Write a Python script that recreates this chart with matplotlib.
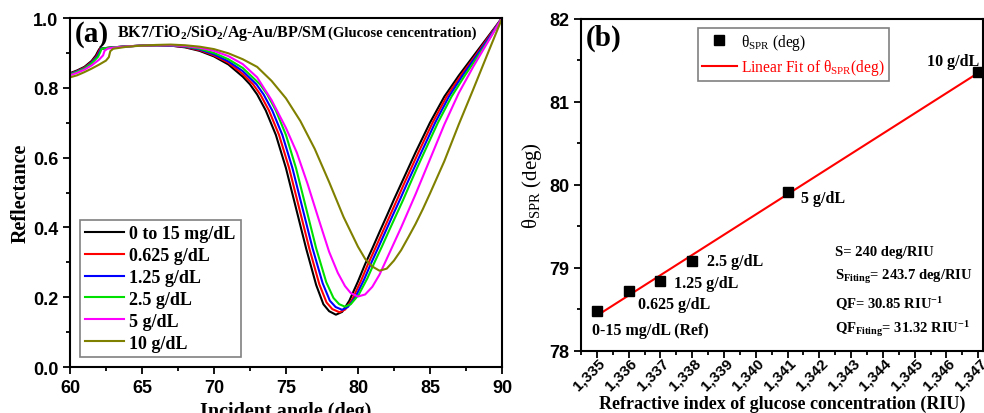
import numpy as np
import matplotlib
matplotlib.use("Agg")
import matplotlib.pyplot as plt
from matplotlib.ticker import MultipleLocator
from matplotlib.font_manager import FontProperties
from matplotlib.transforms import ScaledTranslation

plt.rcParams['mathtext.default'] = 'regular'
plt.rcParams['font.family'] = ['Liberation Serif', 'DejaVu Serif']

# ---------------- Panel (a) data: reflectance curves ----------------
labels_a = ["0 to 15 mg/dL", "0.625 g/dL", "1.25 g/dL", "2.5 g/dL", "5 g/dL", "10 g/dL"]
colors_a = ["#000000", "#ff0000", "#0000ff", "#00e000", "#ff00ff", "#808000"]

ang_black = [60, 60.5, 61, 61.5, 61.8, 61.95, 62.05, 62.5, 63, 64, 65, 66, 67, 68, 69, 70, 71, 72,
             72.5, 73.0, 73.6, 74.3, 75.0, 75.7, 76.4, 77.1, 77.6, 78.0, 78.47, 78.9, 79.4, 80.0,
             80.5, 81.0, 81.5, 82.0, 82.5, 83.0, 83.5, 84.0, 85, 86, 87, 88, 89, 90]
R_black = [0.842, 0.850, 0.860, 0.877, 0.893, 0.905, 0.912, 0.914, 0.916, 0.919, 0.921, 0.922, 0.921,
           0.916, 0.906, 0.890, 0.867, 0.832, 0.810, 0.781, 0.735, 0.665, 0.570, 0.455, 0.340, 0.235,
           0.180, 0.160, 0.150, 0.158, 0.190, 0.245, 0.295, 0.340, 0.387, 0.433, 0.480, 0.525, 0.570,
           0.615, 0.700, 0.775, 0.835, 0.890, 0.945, 1.0]

ang_red = [60, 60.5, 61, 61.5, 61.85, 62.0, 62.1, 62.5, 63, 64, 65, 66, 67, 68, 69, 70, 71, 72,
           72.72, 73.22, 73.82, 74.52, 75.22, 75.92, 76.62, 77.32, 77.82, 78.22, 78.72, 79.12,
           79.62, 80.22, 80.72, 81.22, 81.72, 82.22, 82.72, 83.2, 83.7, 84.2, 85.18, 86.16, 87.14,
           88.12, 89.06, 90]
R_red = [0.840, 0.848, 0.858, 0.874, 0.891, 0.904, 0.912, 0.914, 0.916, 0.919, 0.921, 0.922, 0.921,
         0.917, 0.908, 0.893, 0.872, 0.840, 0.810, 0.781, 0.735, 0.665, 0.570, 0.455, 0.340, 0.237,
         0.185, 0.166, 0.157, 0.165, 0.195, 0.248, 0.297, 0.342, 0.388, 0.434, 0.480, 0.525, 0.570,
         0.615, 0.700, 0.775, 0.835, 0.890, 0.945, 1.0]

ang_blue = [60, 60.5, 61, 61.5, 61.9, 62.05, 62.15, 62.5, 63, 64, 65, 66, 67, 68, 69, 70, 71, 72,
            72.95, 73.45, 74.05, 74.75, 75.45, 76.15, 76.85, 77.55, 78.05, 78.45, 78.9, 79.3,
            79.82, 80.42, 80.92, 81.42, 81.92, 82.42, 82.92, 83.4, 83.9, 84.4, 85.36, 86.32, 87.26,
            88.2, 89.12, 90]
R_blue = [0.839, 0.847, 0.856, 0.872, 0.890, 0.903, 0.912, 0.914, 0.916, 0.919, 0.921, 0.922, 0.921,
          0.918, 0.910, 0.896, 0.876, 0.848, 0.810, 0.781, 0.735, 0.665, 0.570, 0.455, 0.340, 0.240,
          0.190, 0.172, 0.164, 0.172, 0.200, 0.250, 0.298, 0.343, 0.389, 0.435, 0.480, 0.525, 0.570,
          0.615, 0.700, 0.775, 0.835, 0.890, 0.945, 1.0]

ang_green = [60, 60.5, 61, 61.5, 61.95, 62.1, 62.2, 62.5, 63, 64, 65, 66, 67, 68, 69, 70, 71, 72,
             73.2, 73.7, 74.3, 75.0, 75.7, 76.4, 77.1, 77.8, 78.3, 78.7, 79.1, 79.5, 80.05, 80.65,
             81.15, 81.65, 82.15, 82.65, 83.15, 83.62, 84.1, 84.6, 85.55, 86.5, 87.42, 88.32, 89.2, 90]
R_green = [0.838, 0.846, 0.855, 0.870, 0.889, 0.902, 0.912, 0.914, 0.916, 0.919, 0.921, 0.922, 0.922,
           0.919, 0.912, 0.900, 0.882, 0.857, 0.810, 0.781, 0.735, 0.665, 0.570, 0.455, 0.340, 0.243,
           0.198, 0.180, 0.173, 0.180, 0.207, 0.254, 0.300, 0.344, 0.390, 0.435, 0.480, 0.525, 0.570,
           0.615, 0.700, 0.775, 0.835, 0.890, 0.945, 1.0]

ang_mag = [60, 60.5, 61, 61.5, 62.0, 62.3, 62.4, 62.6, 63, 64, 65, 66, 67, 68, 69, 70, 71, 72,
           73, 74, 75, 75.75, 76.5, 77.3, 78.0, 78.6, 79.1, 79.5, 80.0, 80.5, 81.0, 81.5, 82.0,
           82.5, 83.0, 84.0, 85.0, 86.0, 87.0, 88.0, 88.8, 90]
R_mag = [0.836, 0.843, 0.852, 0.864, 0.880, 0.893, 0.906, 0.912, 0.915, 0.919, 0.921, 0.922, 0.922,
         0.920, 0.915, 0.906, 0.891, 0.868, 0.830, 0.765, 0.685, 0.615, 0.525, 0.420, 0.330, 0.270,
         0.232, 0.212, 0.202, 0.208, 0.230, 0.265, 0.310, 0.355, 0.400, 0.495, 0.595, 0.695, 0.785,
         0.860, 0.916, 1.0]

ang_olive = [60, 60.5, 61, 61.5, 62.0, 62.5, 62.7, 62.8, 63, 64, 65, 66, 67, 68, 69, 70, 71, 72,
             73, 74, 75, 76, 77, 78, 79, 80, 80.5, 81, 81.5, 82, 82.5, 83, 83.5, 84, 84.5, 85,
             86, 87, 88, 89, 90]
R_olive = [0.830, 0.836, 0.845, 0.855, 0.866, 0.878, 0.888, 0.905, 0.912, 0.918, 0.921, 0.923, 0.924,
           0.922, 0.918, 0.911, 0.899, 0.882, 0.860, 0.820, 0.770, 0.705, 0.625, 0.530, 0.430, 0.345,
           0.310, 0.288, 0.276, 0.282, 0.305, 0.335, 0.372, 0.410, 0.452, 0.497, 0.590, 0.695, 0.795,
           0.897, 0.998]

angles_a = [ang_black, ang_red, ang_blue, ang_green, ang_mag, ang_olive]
refl_a = [R_black, R_red, R_blue, R_green, R_mag, R_olive]
xticks_a = [60, 65, 70, 75, 80, 85, 90]
yticks_a = [0.0, 0.2, 0.4, 0.6, 0.8, 1.0]

# ---------------- Panel (b) data ----------------
ri = [1.335, 1.336, 1.337, 1.338, 1.341, 1.347]
theta_spr = [78.48, 78.72, 78.84, 79.08, 79.92, 81.36]
point_labels = ["0-15 mg/dL (Ref)", "0.625 g/dL", "1.25 g/dL", "2.5 g/dL", "5 g/dL", "10 g/dL"]
label_pos = [(1.33485, 78.25), (1.33628, 78.57), (1.33742, 78.82), (1.33845, 79.08),
             (1.34141, 79.84), (1.34703, 81.49)]
xticks_b = [1.335, 1.336, 1.337, 1.338, 1.339, 1.340, 1.341, 1.342, 1.343, 1.344, 1.345, 1.346, 1.347]
yticks_b = [78, 79, 80, 81, 82]
stats_text = [r"S= 240 deg/RIU", r"S$_{Fiting}$= 243.7 deg/RIU",
              r"QF= 30.85 RIU$^{-1}$", r"QF$_{Fiting}$= 31.32 RIU$^{-1}$"]
stats_y = [79.2, 78.9, 78.58, 78.27]

fig = plt.figure(figsize=(9.84, 4.14), dpi=100)
axA = fig.add_axes([0.0711, 0.111, 0.4390, 0.843])
axB = fig.add_axes([0.5905, 0.150, 0.4085, 0.802])

tickfp = FontProperties(family='Liberation Sans', weight='bold', size=13)

# ---- Panel (a)
for ang, R, lab, col in zip(angles_a, refl_a, labels_a, colors_a):
    axA.plot(ang, R, color=col, lw=1.5, label=lab)
axA.set_xlim(60, 90)
axA.set_ylim(0, 1.0)
axA.set_xticks(xticks_a)
axA.set_xticklabels([f"{v:g}" for v in xticks_a])
axA.set_yticks(yticks_a)
axA.set_yticklabels([f"{v:.1f}" for v in yticks_a])
axA.xaxis.set_minor_locator(MultipleLocator(2.5))
axA.yaxis.set_minor_locator(MultipleLocator(0.1))
axA.tick_params(which='both', direction='out', width=1.3, top=False, right=False)
axA.tick_params(which='major', length=5)
axA.tick_params(which='minor', length=3)
for t in axA.get_xticklabels() + axA.get_yticklabels():
    t.set_fontproperties(tickfp)
for s in axA.spines.values():
    s.set_linewidth(1.5)
axA.set_xlabel("Incident angle (deg)", fontsize=14.5, fontweight='bold', labelpad=4)
axA.set_ylabel("Reflectance", fontsize=14.5, fontweight='bold', labelpad=1.5)
axA.text(0.012, 0.957, "(a)", transform=axA.transAxes, fontsize=21, fontweight='bold',
         va='center', ha='left')
axA.text(0.108, 0.96, "BK7/TiO$_2$/SiO$_2$/Ag-Au/BP/SM", transform=axA.transAxes,
         fontsize=11.5, fontweight='bold', va='center', ha='left')
axA.text(0.598, 0.96, "(Glucose cencentration)", transform=axA.transAxes,
         fontsize=10.5, fontweight='bold', va='center', ha='left')
legA = axA.legend(loc='lower left', bbox_to_anchor=(0.023, 0.029), borderaxespad=0,
                  prop=dict(family='Liberation Serif', weight='bold', size=13),
                  handlelength=2.15, handletextpad=0.28, labelspacing=0.27, borderpad=0.3,
                  fancybox=False, edgecolor='#808080', framealpha=1)
legA.get_frame().set_linewidth(1.2)

# ---- Panel (b)
coef = np.polyfit(ri, theta_spr, 1)
xfit = np.array([ri[0], ri[-1]])
axB.plot(ri, theta_spr, 's', color='black', ms=6.5, label=r"θ$_{SPR}$ (deg)", zorder=3)
axB.plot(xfit, np.polyval(coef, xfit), '-', color='#ff0000', lw=1.5,
         label=r"Linear Fit of θ$_{SPR}$(deg)", zorder=2)
axB.set_xlim(1.3345, 1.34715)
axB.set_ylim(78, 82)
axB.set_xticks(xticks_b)
axB.set_xticklabels([f"{v:.3f}".replace('.', ',') for v in xticks_b], rotation=45,
                    ha='right', va='top')
axB.set_yticks(yticks_b)
axB.set_yticklabels([str(v) for v in yticks_b])
axB.xaxis.set_minor_locator(MultipleLocator(0.0005))
axB.yaxis.set_minor_locator(MultipleLocator(0.5))
axB.tick_params(which='both', direction='out', width=1.3, top=False, right=False)
axB.tick_params(which='major', length=5)
axB.tick_params(which='minor', length=3)
axB.tick_params(axis='x', which='major', pad=-2)
for t in axB.get_yticklabels():
    t.set_fontproperties(tickfp)
shift = ScaledTranslation(11 / 100, 0, fig.dpi_scale_trans)
for t in axB.get_xticklabels():
    t.set_fontproperties(FontProperties(family='Liberation Sans', weight='bold', size=11))
    t.set_transform(t.get_transform() + shift)
for s in axB.spines.values():
    s.set_linewidth(1.5)
axB.set_xlabel("Refractive index of glucose concentration (RIU)", fontsize=13,
               fontweight='bold', labelpad=2)
axB.set_ylabel(r"θ$_{SPR}$ (deg)", fontsize=15, labelpad=4)
axB.text(0.012, 0.943, "(b)", transform=axB.transAxes, fontsize=21, fontweight='bold',
         va='center', ha='left')
for (tx, ty), lab in zip(label_pos, point_labels):
    ha = 'right' if lab.startswith("10") else 'left'
    axB.text(tx, ty, lab, fontsize=11.5, fontweight='bold', va='center', ha=ha)
for st, sy in zip(stats_text, stats_y):
    axB.text(1.3425, sy, st, fontsize=10.5, fontweight='bold', va='center', ha='left')
legB = axB.legend(loc='upper left', bbox_to_anchor=(0.29, 0.973), borderaxespad=0,
                  prop=dict(family='Liberation Serif', size=11.2),
                  handlelength=2.3, handletextpad=0.25, labelspacing=0.35, borderpad=0.25,
                  fancybox=False, edgecolor='#808080', framealpha=1)
legB.get_frame().set_linewidth(1.2)
legB.get_texts()[1].set_color('#ff0000')

fig.savefig("out.png", dpi=100)
